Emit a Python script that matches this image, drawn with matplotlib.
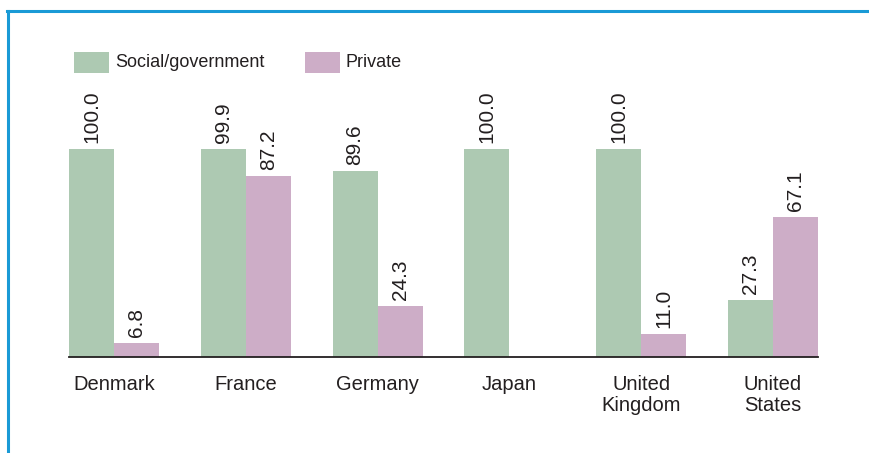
import matplotlib.pyplot as plt
import numpy as np
from matplotlib.lines import Line2D
from matplotlib.patches import Rectangle

plt.rcParams['font.family'] = ['Liberation Sans', 'DejaVu Sans']

countries = ['Denmark', 'France', 'Germany', 'Japan', 'United\nKingdom', 'United\nStates']
social = [100.0, 99.9, 89.6, 100.0, 100.0, 27.3]
private = [6.8, 87.2, 24.3, np.nan, 11.0, 67.1]

green = '#adc9b2'
pink = '#cdadc7'
txt = '#231f20'
frame = '#1a9ad6'

W, H = 870, 453
fig = plt.figure(figsize=(W / 100, H / 100), dpi=100)

# axes placed in pixel terms: baseline y=357, 100 -> y=149
x0, x1 = 69, 818
yb, yt = 357, 149
ax = fig.add_axes([x0 / W, 1 - yb / H, (x1 - x0) / W, (yb - yt) / H])

w = 45 / 132
x = np.arange(len(countries))
ax.bar(x - w / 2, social, width=w, color=green, linewidth=0)
ax.bar(x + w / 2, private, width=w, color=pink, linewidth=0)
ax.set_xlim(-w, len(countries) - 1 + w)
ax.set_ylim(0, 100)

gap = 6 * 100 / (yb - yt)
for xs, vals in ((x - w / 2, social), (x + w / 2, private)):
    for xi, v in zip(xs, vals):
        if np.isnan(v):
            continue
        ax.text(xi, v + gap, f'{v:.1f}', rotation=90, ha='center', va='bottom',
                fontsize=15, color=txt, clip_on=False)

for s in ['top', 'right', 'left']:
    ax.spines[s].set_visible(False)
ax.spines['bottom'].set_color(txt)
ax.spines['bottom'].set_linewidth(1.3)
ax.set_yticks([])
ax.set_xticks(x)
ax.set_xticklabels(countries, fontsize=14.5, color=txt, linespacing=1.15)
ax.tick_params(axis='x', length=0, pad=13)

# legend drawn by hand
for lx, label, c in ((74, 'Social/government', green), (305, 'Private', pink)):
    fig.add_artist(Rectangle((lx / W, 1 - 73 / H), 35 / W, 21 / H,
                             transform=fig.transFigure, color=c, linewidth=0))
    fig.text((lx + 41) / W, 1 - 62.5 / H, label, fontsize=13, color=txt,
             va='center', ha='left')

# blue frame lines
fig.add_artist(Line2D([7 / W, 1], [1 - 11 / H, 1 - 11 / H], color=frame, lw=2.2,
                      transform=fig.transFigure))
fig.add_artist(Line2D([8 / W, 8 / W], [0, 1 - 11 / H], color=frame, lw=2.2,
                      transform=fig.transFigure))

fig.savefig('out.png', dpi=100)
